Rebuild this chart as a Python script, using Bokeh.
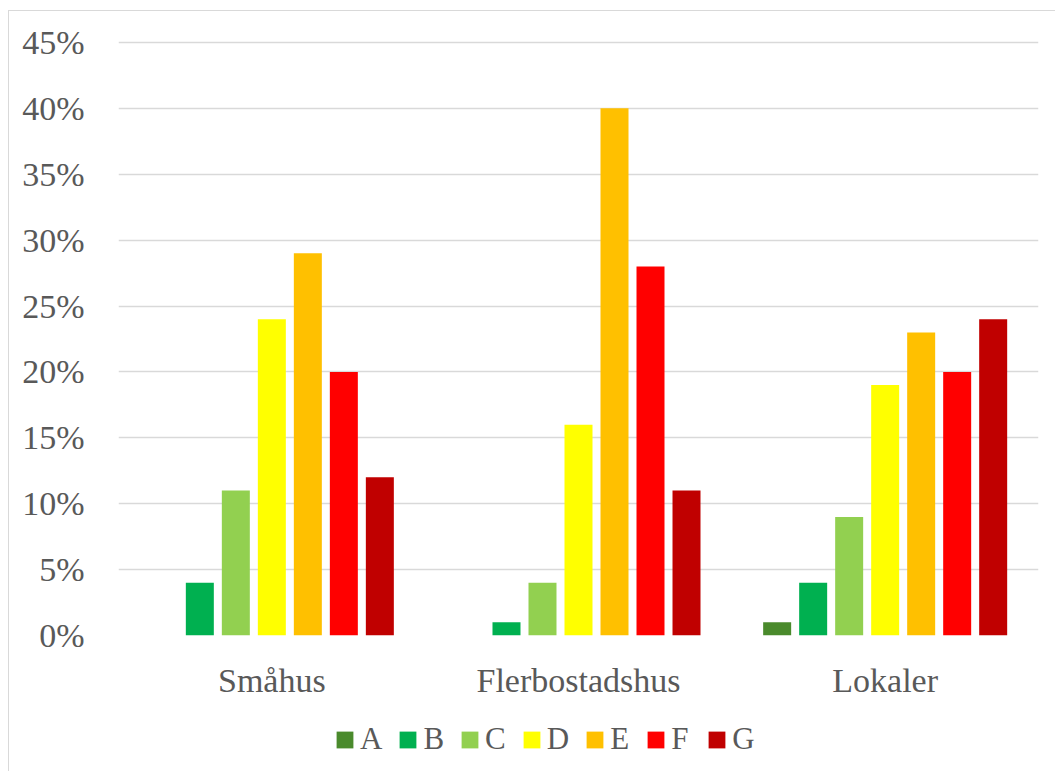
from bokeh.plotting import figure
from bokeh.layouts import column
from bokeh.models import (FactorRange, Range1d, NumeralTickFormatter, FixedTicker,
                          Legend, LegendItem, ColumnDataSource)
from bokeh.transform import dodge
from bokeh.embed import file_html
from bokeh.resources import INLINE

categories = ["Småhus", "Flerbostadshus", "Lokaler"]
series = ["A", "B", "C", "D", "E", "F", "G"]
A = [0.00, 0.00, 0.01]
B = [0.04, 0.01, 0.04]
C = [0.11, 0.04, 0.09]
D = [0.24, 0.16, 0.19]
E = [0.29, 0.40, 0.23]
F = [0.20, 0.28, 0.20]
G = [0.12, 0.11, 0.24]
y_ticks = [0.0, 0.05, 0.10, 0.15, 0.20, 0.25, 0.30, 0.35, 0.40, 0.45]

colors = ["#4a8a2c", "#00b050", "#92d050", "#ffff00", "#ffc000", "#ff0000", "#c00000"]

FONT = "Liberation Serif"
TXT = "#595959"

src = ColumnDataSource(dict(cat=categories, A=A, B=B, C=C, D=D, E=E, F=F, G=G))

p = figure(x_range=FactorRange(*categories), y_range=Range1d(0, 0.4515),
           width=1046, height=700, output_backend="svg", toolbar_location=None,
           min_border_left=109, min_border_right=17, min_border_top=29,
           min_border_bottom=76)
p.outline_line_color = None
p.background_fill_color = "white"
p.border_fill_color = "white"

pitch = 0.1174
bw = 0.0913
for i, (s, c) in enumerate(zip(series, colors)):
    p.vbar(x=dodge("cat", (i - 3) * pitch, range=p.x_range), top=s, width=bw,
           source=src, fill_color=c, line_color=None)

p.yaxis.ticker = FixedTicker(ticks=y_ticks)
p.yaxis.formatter = NumeralTickFormatter(format="0%")
p.yaxis.axis_line_color = None
p.yaxis.major_tick_line_color = None
p.yaxis.minor_tick_line_color = None
p.yaxis.major_label_standoff = 28
p.yaxis.major_label_text_font = FONT
p.yaxis.major_label_text_font_size = "34px"
p.yaxis.major_label_text_color = TXT

p.xaxis.axis_line_color = None
p.xaxis.major_tick_line_color = None
p.xaxis.minor_tick_line_color = None
p.xaxis.major_label_standoff = 20
p.xaxis.major_label_text_font = FONT
p.xaxis.major_label_text_font_size = "34px"
p.xaxis.major_label_text_color = TXT

p.xgrid.grid_line_color = None
p.ygrid.grid_line_color = "#d9d9d9"
p.ygrid.grid_line_width = 1.5

# legend strip below the chart (its bars lie outside its visible y range)
lf = figure(width=1046, height=60, output_backend="svg", toolbar_location=None,
            x_range=p.x_range, y_range=Range1d(1, 2),
            x_axis_type=None, y_axis_type=None,
            min_border_left=0, min_border_right=0, min_border_top=0, min_border_bottom=0)
lf.outline_line_color = None
lf.xgrid.visible = False
lf.ygrid.visible = False
items = []
for i, (s, c) in enumerate(zip(series, colors)):
    r = lf.vbar(x=dodge("cat", (i - 3) * pitch, range=lf.x_range), top=s, width=bw,
                source=src, fill_color=c, line_color=None)
    items.append(LegendItem(label=s, renderers=[r]))

legend = Legend(items=items, orientation="horizontal", location=(216, 14),
                glyph_width=21, glyph_height=21, label_standoff=5, spacing=15,
                padding=0, margin=0, border_line_color=None, background_fill_alpha=0,
                label_text_font=FONT, label_text_font_size="31px",
                label_text_color=TXT)
lf.add_layout(legend, "center")

layout = column(p, lf, spacing=0)
layout.margin = (10, 0, 0, 8)
layout.styles = {"border-left": "1px solid #d9d9d9", "border-top": "1px solid #d9d9d9"}

open("out.html", "w").write(file_html(layout, INLINE))
